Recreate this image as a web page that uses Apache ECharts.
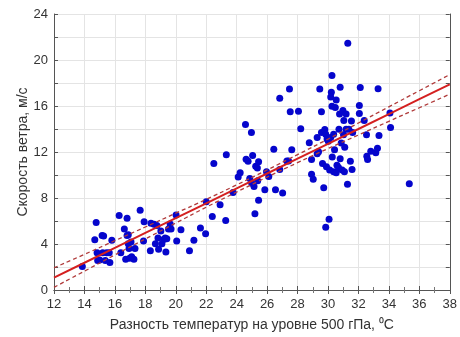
<!DOCTYPE html>
<html>
<head>
<meta charset="utf-8">
<script src="https://cdn.jsdelivr.net/npm/echarts@6/dist/echarts.min.js"></script>
<style>
  html, body { margin: 0; padding: 0; background: #fff; }
  #chart { width: 460px; height: 337px; }
</style>
</head>
<body>
<div id="chart"></div>
<script>
// Observations: temperature difference at 500 hPa (°C) vs wind speed (m/s)
const tempDiff = [
  13.86, 14.77, 14.68, 14.83, 14.87, 15.00, 15.16, 15.26, 15.20, 15.37,
  15.46, 15.67, 15.63, 15.80, 16.28, 16.39, 16.62, 16.80, 16.80, 16.88,
  16.71, 16.93, 16.97, 17.10, 16.88, 17.06, 17.25, 17.32, 17.66, 17.92,
  17.88, 18.33, 18.37, 18.57, 18.66, 18.76, 18.87, 18.83, 19.02, 19.09,
  19.20, 19.30, 19.41, 19.35, 19.52, 19.63, 19.69, 20.02, 20.06, 20.34,
  20.90, 21.19, 21.62, 21.96, 22.00, 22.40, 22.50, 22.91, 23.28, 23.32,
  23.76, 24.10, 24.23, 24.58, 24.62, 24.75, 24.86, 24.97, 24.99, 25.05,
  25.14, 25.20, 25.25, 25.36, 25.44, 25.38, 25.44, 25.85, 25.96, 26.11,
  26.44, 26.55, 26.83, 26.83, 27.02, 27.30, 27.47, 27.52, 27.62, 27.41,
  28.06, 28.21, 28.77, 28.92, 28.92, 29.03, 29.29, 29.29, 29.38, 29.46,
  29.57, 29.57, 29.64, 29.72, 29.79, 29.85, 29.85, 29.90, 29.94, 30.02,
  30.07, 30.18, 30.11, 30.26, 30.22, 30.18, 30.26, 30.28, 30.37, 30.37,
  30.43, 30.48, 30.54, 30.54, 30.59, 30.69, 30.72, 30.76, 30.80, 30.80,
  30.87, 30.93, 30.98, 31.02, 31.04, 31.10, 31.08, 31.19, 31.19, 31.28,
  31.30, 31.37, 31.47, 31.54, 31.58, 31.62, 32.06, 32.06, 32.12, 32.38,
  32.53, 32.55, 32.60, 32.81, 33.14, 33.25, 33.29, 33.35, 34.07, 34.11,
  35.34
];
const windSpeed = [
   2.05,  5.88,  4.38,  3.24,  2.56,  2.60,  4.74,  4.69,  3.24,  2.56,
   3.24,  2.39,  3.24,  4.32,  6.48,  3.24,  5.31,  6.25,  4.74,  4.80,
   2.67,  3.61,  2.76,  2.90,  4.03,  4.18,  2.67,  3.61,  6.93,  5.94,
   4.26,  3.41,  5.80,  5.71,  4.03,  5.60,  3.55,  4.52,  5.14,  4.03,
   4.40,  4.52,  4.46,  3.30,  5.31,  5.74,  5.31,  6.53,  4.26,  5.23,
   3.41,  4.32,  5.40,  4.89,  7.67,  6.39, 10.99,  7.41,  6.05, 11.76,
   8.47,  9.83, 10.20, 14.40, 11.36, 11.19,  9.69, 13.69,  9.29, 11.70,
   9.00,  6.62, 10.77, 10.60, 11.16,  9.49,  7.81,  8.72, 10.28,  9.86,
  12.24,  8.72, 16.68, 10.48,  8.44, 11.22, 17.47, 15.51, 12.19, 11.22,
  15.54, 14.03, 12.81, 11.34, 10.06,  9.63, 13.27, 11.85, 12.02, 17.47,
  15.51, 13.69, 10.99,  8.89, 13.95,  5.45, 13.55, 10.71, 13.13, 12.93,
   6.16, 13.27, 10.43, 18.66, 17.19, 16.79, 15.97, 11.56, 10.28, 13.55,
  12.19, 15.88, 16.53, 10.20, 10.85, 10.65, 13.98, 15.31, 17.64, 11.42,
  12.78, 10.43, 15.60, 13.49, 14.74, 12.41, 10.28, 15.31, 13.98,  9.20,
  21.45, 13.98, 11.19, 14.69, 10.48, 13.69, 16.05, 15.34, 17.61, 14.74,
  13.49, 11.62, 11.34, 12.07, 11.93, 12.33, 17.50, 13.44, 15.40, 14.12,
   9.23
];

// Fitted regression line and 95% confidence band, sampled along x
const fitX     = [12, 14, 16, 18, 20, 22, 24, 26, 28, 30, 32, 34, 36, 38];
const fitY     = [1.08, 2.37, 3.67, 4.96, 6.25, 7.54, 8.83, 10.13, 11.42, 12.71, 14.00, 15.30, 16.59, 17.88];
const bandUp   = [1.93, 3.10, 4.29, 5.48, 6.68, 7.88, 9.14, 10.44, 11.77, 13.12, 14.52, 15.93, 17.33, 18.73];
const bandLow  = [0.23, 1.64, 3.05, 4.44, 5.82, 7.20, 8.52, 9.82, 11.07, 12.30, 13.48, 14.67, 15.85, 17.03];

const xTicks = { min: 12, max: 38, step: 2 };
const yTicks = { min: 0, max: 24, step: 2, labelStep: 4 };

const pts = tempDiff.map((x, i) => [x, windSpeed[i]]);
const pair = ys => fitX.map((x, i) => [x, ys[i]]);

const chart = echarts.init(document.getElementById('chart'), null, { renderer: 'canvas' });

const frame = { show: true, lineStyle: { color: '#555', width: 1 } };
const grid = { show: true, lineStyle: { color: '#e4e4e4', width: 1 } };
const labelFont = { color: '#333', fontSize: 13, fontFamily: 'Liberation Sans, Arial, sans-serif' };

chart.setOption({
  animation: false,
  backgroundColor: '#fff',
  grid: { left: 54, right: 5, top: 14, bottom: 41, containLabel: false },
  xAxis: [
    {
      type: 'value', min: xTicks.min, max: xTicks.max, interval: xTicks.step,
      position: 'bottom',
      name: 'Разность температур на уровне 500 гПа, \u2070C',
      nameLocation: 'middle', nameGap: 28, nameMoveOverlap: false,
      nameTextStyle: { color: '#333', fontSize: 14, fontFamily: 'Liberation Sans, Arial, sans-serif' },
      axisLine: frame,
      axisTick: { show: true, inside: true, length: 4, lineStyle: { color: '#555' } },
      minorTick: { show: true, splitNumber: 2, length: 3, lineStyle: { color: '#777' } },
      axisLabel: Object.assign({ margin: 8 }, labelFont),
      splitLine: grid
    },
    {
      type: 'value', min: xTicks.min, max: xTicks.max, interval: xTicks.step,
      position: 'top',
      axisLine: frame,
      axisTick: { show: true, inside: true, length: 4, lineStyle: { color: '#555' } },
      minorTick: { show: true, splitNumber: 2, length: 3, lineStyle: { color: '#777' } },
      axisLabel: { show: false },
      splitLine: { show: false }
    }
  ],
  yAxis: [
    {
      type: 'value', min: yTicks.min, max: yTicks.max, interval: yTicks.step,
      position: 'left',
      name: 'Скорость ветра, м/с',
      nameLocation: 'middle', nameGap: 24, nameMoveOverlap: false,
      nameTextStyle: { color: '#333', fontSize: 14, fontFamily: 'Liberation Sans, Arial, sans-serif' },
      axisLine: frame,
      axisTick: { show: true, inside: true, length: 4, lineStyle: { color: '#555' } },
      axisLabel: Object.assign({
        margin: 6,
        formatter: v => (v % yTicks.labelStep === 0 ? String(v) : '')
      }, labelFont),
      splitLine: grid
    },
    {
      type: 'value', min: yTicks.min, max: yTicks.max, interval: yTicks.step,
      position: 'right',
      axisLine: frame,
      axisTick: { show: true, inside: true, length: 4, lineStyle: { color: '#555' } },
      axisLabel: { show: false },
      splitLine: { show: false }
    }
  ],
  series: [
    {
      type: 'scatter', data: pts, symbol: 'circle', symbolSize: 7,
      itemStyle: { color: '#0505cc', opacity: 1 },
      z: 3
    },
    {
      type: 'line', data: pair(fitY), showSymbol: false, smooth: false,
      lineStyle: { color: '#d42020', width: 2 }, z: 4
    },
    {
      type: 'line', data: pair(bandUp), showSymbol: false, smooth: true,
      lineStyle: { color: '#b03a3a', width: 1.3, type: [4, 3] }, z: 4
    },
    {
      type: 'line', data: pair(bandLow), showSymbol: false, smooth: true,
      lineStyle: { color: '#b03a3a', width: 1.3, type: [4, 3] }, z: 4
    }
  ]
});
</script>
</body>
</html>
